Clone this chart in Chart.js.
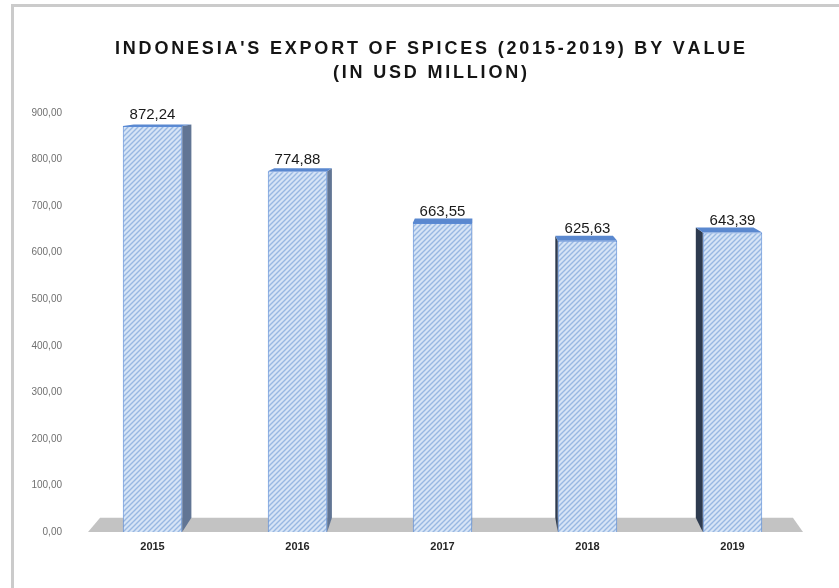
<!DOCTYPE html>
<html lang="en">
<head>
    <meta charset="UTF-8">
    <title>Indonesia's Export of Spices (2015-2019) by Value</title>
    <script src="https://cdn.jsdelivr.net/npm/chart.js"></script>
    <style>
        html, body {
            margin: 0;
            padding: 0;
            background: #fff;
            overflow: hidden;
        }
        .frame {
            position: absolute;
            left: 11px;
            top: 4px;
            width: 900px;
            height: 700px;
            border-top: 3px solid #cbcbcb;
            border-left: 3px solid #cbcbcb;
        }
        .wrap {
            position: relative;
            width: 839px;
            height: 588px;
        }
    </style>
</head>
<body>
    <div class="frame"></div>
    <div class="wrap">
        <canvas id="chart"></canvas>
    </div>

    <script>
        // chart data
        const years = ["2015", "2016", "2017", "2018", "2019"];
        const exportValues = [872.24, 774.88, 663.55, 625.63, 643.39];
        const titleLines = ["INDONESIA'S EXPORT OF SPICES (2015-2019) BY VALUE", "(IN USD MILLION)"];

        // decimal comma, two places
        const fmt = v => v.toFixed(2).replace(".", ",");

        // hatched fill for the bar fronts
        function makeHatch(ctx) {
            const c = document.createElement("canvas");
            c.width = 5;
            c.height = 5;
            const g = c.getContext("2d");
            g.fillStyle = "#d6e4f6";
            g.fillRect(0, 0, 5, 5);
            g.strokeStyle = "#98b8e2";
            g.lineWidth = 1.4;
            g.beginPath();
            g.moveTo(-1, 6); g.lineTo(6, -1);
            g.moveTo(-4, 4); g.lineTo(4, -4);
            g.moveTo(1, 9); g.lineTo(9, 1);
            g.stroke();
            return ctx.createPattern(c, "repeat");
        }

        // one-point perspective used for the fake 3d depth
        const VP = { x: 478, y: 76 };
        const DEPTH = 0.031;
        const back = (x, y) => [x + DEPTH * (VP.x - x), y + DEPTH * (VP.y - y)];

        function quad(ctx, pts, fill) {
            ctx.beginPath();
            ctx.moveTo(pts[0][0], pts[0][1]);
            for (let i = 1; i < pts.length; i++) ctx.lineTo(pts[i][0], pts[i][1]);
            ctx.closePath();
            ctx.fillStyle = fill;
            ctx.fill();
        }

        const depthPlugin = {
            id: "depth",
            beforeDatasetsDraw(chart) {
                const ctx = chart.ctx;
                const area = chart.chartArea;
                ctx.save();

                // grey floor
                const fx1 = area.left + 8, fx2 = area.right - 2, fy = area.bottom;
                quad(ctx, [[fx1, fy], [fx2, fy], back(fx2, fy), back(fx1, fy)], "#c3c3c3");

                // side and top faces
                chart.getDatasetMeta(0).data.forEach(bar => {
                    const p = bar.getProps(["x", "y", "base", "width"], true);
                    const xl = p.x - p.width / 2, xr = p.x + p.width / 2;
                    const yt = p.y, yb = p.base;
                    if (xr < VP.x) {
                        quad(ctx, [[xr, yt], back(xr, yt), back(xr, yb), [xr, yb]], "#617594");
                    }
                    if (xl > VP.x) {
                        quad(ctx, [[xl, yt], back(xl, yt), back(xl, yb), [xl, yb]], "#2e3b4f");
                    }
                    quad(ctx, [[xl, yt], [xr, yt], back(xr, yt), back(xl, yt)], "#5a88cf");
                });
                ctx.restore();
            },
            afterDatasetsDraw(chart) {
                const ctx = chart.ctx;
                ctx.save();
                ctx.font = "15px 'Liberation Sans', Arial, sans-serif";
                ctx.fillStyle = "#1a1a1a";
                ctx.textAlign = "center";
                ctx.textBaseline = "bottom";
                chart.getDatasetMeta(0).data.forEach((bar, i) => {
                    ctx.fillText(fmt(exportValues[i]), bar.x, bar.y - 4);
                });
                ctx.restore();
            },
            afterDraw(chart) {
                // spaced-out two line title, first line about 630px wide
                const ctx = chart.ctx;
                ctx.save();
                ctx.font = "bold 18px 'Liberation Sans', Arial, sans-serif";
                ctx.fillStyle = "#151515";
                ctx.textBaseline = "middle";
                ctx.textAlign = "left";
                const first = titleLines[0];
                let raw = 0;
                for (const ch of first) raw += ctx.measureText(ch).width;
                const spacing = Math.max(0, (630 - raw) / (first.length - 1));
                const ys = [49, 73];
                titleLines.forEach((line, i) => {
                    let w = 0;
                    for (const ch of line) w += ctx.measureText(ch).width + spacing;
                    w -= spacing;
                    let x = 430 - w / 2;
                    for (const ch of line) {
                        ctx.fillText(ch, x, ys[i]);
                        x += ctx.measureText(ch).width + spacing;
                    }
                });
                ctx.restore();
            }
        };

        const ctx = document.getElementById("chart").getContext("2d");

        new Chart(ctx, {
            type: "bar",
            data: {
                labels: years,
                datasets: [{
                    label: "Export value",
                    data: exportValues,
                    backgroundColor: makeHatch(ctx),
                    borderColor: "#5b8bd6",
                    borderWidth: 1,
                    categoryPercentage: 1,
                    barPercentage: 0.41
                }]
            },
            options: {
                responsive: true,
                maintainAspectRatio: false,
                animation: false,
                layout: {
                    padding: { top: 113, left: 20, right: 34, bottom: 0 }
                },
                plugins: {
                    legend: { display: false },
                    title: { display: false },
                    tooltip: { enabled: false }
                },
                scales: {
                    x: {
                        grid: { display: false, drawTicks: false },
                        border: { display: false },
                        ticks: {
                            color: "#262626",
                            padding: 8,
                            font: { family: "'Liberation Sans', Arial, sans-serif", size: 11, weight: "bold" }
                        },
                        afterFit: s => { s.height = 56; }
                    },
                    y: {
                        min: 0,
                        max: 900,
                        grid: { display: false, drawTicks: false },
                        border: { display: false },
                        ticks: {
                            stepSize: 100,
                            color: "#707070",
                            padding: 18,
                            font: { family: "'Liberation Sans', Arial, sans-serif", size: 10 },
                            callback: v => fmt(v)
                        },
                        afterFit: s => { s.width = 60; }
                    }
                }
            },
            plugins: [depthPlugin]
        });
    </script>
</body>
</html>
